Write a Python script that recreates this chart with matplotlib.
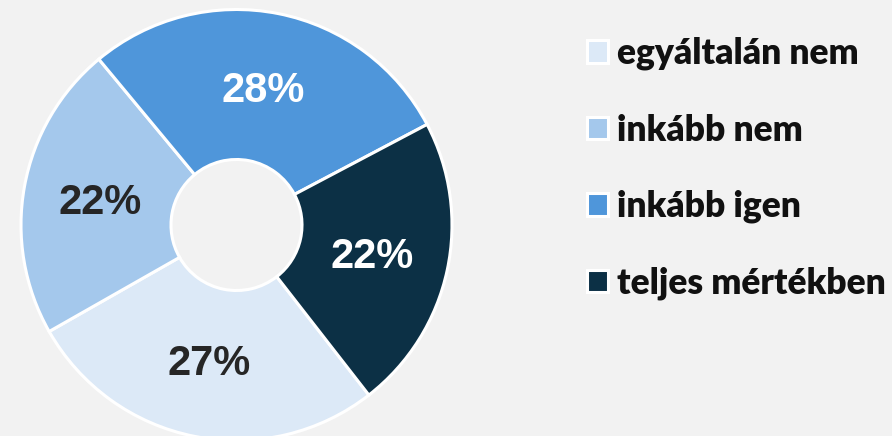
import matplotlib.pyplot as plt
from matplotlib.patches import Patch

categories = ['egyáltalán nem', 'inkább nem', 'inkább igen', 'teljes mértékben']
values = [27.3, 22.2, 28.3, 22.2]
colors = ['#dce9f7', '#a4c8ec', '#4f96da', '#0c3045']
text_colors = ['#262626', '#262626', 'white', 'white']

W, H = 892, 436
cx, cy, r = 236.5, 225, 215.5

fig = plt.figure(figsize=(W / 100, H / 100), dpi=100, facecolor='#f2f2f2')
ax = fig.add_axes([0, 0, 1, 1])
ax.set_facecolor('#f2f2f2')

wedges, texts, autotexts = ax.pie(
    values, colors=colors, startangle=-52.1, counterclock=False,
    radius=1, autopct=lambda p: f'{round(p)}%', pctdistance=0.645,
    wedgeprops=dict(width=1 - 65.5 / r, edgecolor='white', linewidth=2.2),
    textprops=dict(family='Liberation Sans', weight='bold', fontsize=30))
for t, c in zip(autotexts, text_colors):
    t.set_color(c)
    x, y = t.get_position()
    t.set_position((x, y - 0.012))

ax.set_xlim(-cx / r, (W - cx) / r)
ax.set_ylim(-(H - cy) / r, cy / r)
ax.set_aspect('auto')
ax.axis('off')

handles = [Patch(facecolor=c, edgecolor='white', linewidth=2.2) for c in colors]
leg = fig.legend(handles, categories, loc='upper left', bbox_to_anchor=(587 / W, 1 - 37 / H),
                 frameon=False, handlelength=0.6, handleheight=0.6, handletextpad=0.25,
                 labelspacing=1.22, borderaxespad=0, borderpad=0,
                 prop=dict(family='Lato', weight='heavy', size=25.5))
for t in leg.get_texts():
    t.set_color('#111111')

fig.savefig('out.png', dpi=100, facecolor=fig.get_facecolor())
